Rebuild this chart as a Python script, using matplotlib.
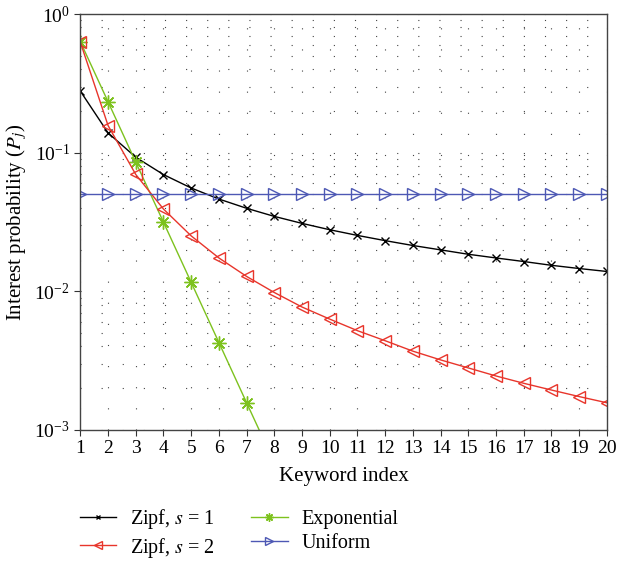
import matplotlib
matplotlib.use("Agg")
import matplotlib.pyplot as plt

plt.rcParams['font.family'] = ['Liberation Serif', 'DejaVu Serif']
plt.rcParams['mathtext.fontset'] = 'stix'

keyword_index = list(range(1, 21))

zipf_s1 = [0.278, 0.139, 0.0927, 0.0695, 0.0556, 0.0463, 0.0397, 0.0347, 0.0309, 0.0278,
           0.0253, 0.0232, 0.0214, 0.0199, 0.0185, 0.0174, 0.0164, 0.0154, 0.0146, 0.0139]
zipf_s2 = [0.627, 0.157, 0.0696, 0.0392, 0.0251, 0.0174, 0.0128, 0.0098, 0.0077, 0.0063,
           0.0052, 0.0044, 0.0037, 0.0032, 0.0028, 0.00245, 0.00217, 0.00194, 0.00174, 0.00157]
exponential = [0.632, 0.233, 0.0855, 0.0315, 0.0116, 0.00427, 0.00157, 0.00058, 0.000213,
               0.0000785, 0.0000289, 0.0000106, 0.0000039, 0.0000014, 0.00000053,
               0.00000019, 0.00000007, 0.000000026, 0.0000000096, 0.0000000035]
uniform = [0.05] * 20

fig, ax = plt.subplots(figsize=(6.18, 5.62), dpi=100)
fig.subplots_adjust(left=0.13, right=0.982, top=0.975, bottom=0.235)

ax.plot(keyword_index, zipf_s1, color='black', lw=1.0, marker='x', ms=6, mew=1.0,
        label='Zipf, $s$ = 1')
ax.plot(keyword_index, exponential, color='#7dc21e', lw=1.0, marker=(8, 2, 0), ms=10, mew=1.0,
        label='Exponential')
ax.plot(keyword_index, zipf_s2, color='#e8352b', lw=1.0, marker='<', ms=9, mew=1.0,
        mfc='none', label='Zipf, $s$ = 2')
ax.plot(keyword_index, uniform, color='#4d58b4', lw=1.0, marker='>', ms=9, mew=1.0,
        mfc='none', label='Uniform')

ax.set_yscale('log')
ax.set_ylim(1e-3, 1)
ax.set_xlim(1, 20)
ax.set_xticks(keyword_index)
ax.tick_params(labelsize=14, direction='out', length=4, color='#333333')
ax.tick_params(which='minor', length=0)
# sparse dotted grid on majors and log minors
ax.grid(True, which='both', ls=(0, (1, 18)), lw=0.8, color='#444444')
for s in ax.spines.values():
    s.set_color('#444444')
    s.set_linewidth(1.0)

ax.set_xlabel('Keyword index', fontsize=15, labelpad=7)
ax.set_ylabel('Interest probability ($P_j$)', fontsize=15)

handles, labels = ax.get_legend_handles_labels()
order = [0, 2, 1, 3]
fig.legend([handles[i] for i in order], [labels[i] for i in order], ncol=2, frameon=False,
           loc='upper left', bbox_to_anchor=(0.129, 0.097), borderaxespad=0, borderpad=0,
           fontsize=14.5, handlelength=1.8, handletextpad=0.7, columnspacing=1.8,
           labelspacing=0.2, markerscale=0.6)

fig.savefig('out.png', dpi=100)
